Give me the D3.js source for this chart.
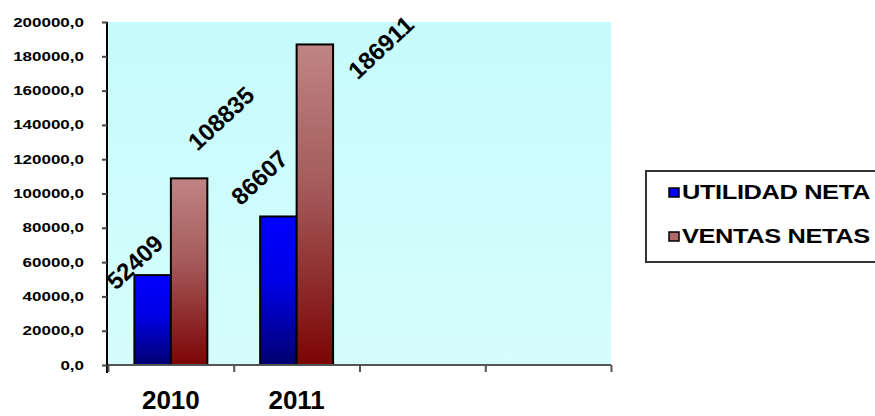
<!DOCTYPE html>
<html>
<head>
<meta charset="utf-8">
<script src="https://cdn.jsdelivr.net/npm/d3@7"></script>
<style>
  html, body { margin: 0; padding: 0; background: #fff; }
  svg { display: block; }
  text { font-family: "Liberation Sans", Arial, sans-serif; fill: #000; }
</style>
</head>
<body>
<svg id="chart" width="875" height="416"></svg>
<script>
// Category slots on the x axis (only the first two carry data)
const categories = ["2010", "2011", "", ""];
const seriesNames = ["UTILIDAD NETA", "VENTAS NETAS"];
const utilidadNeta = [52409, 86607];
const ventasNetas = [108835, 186911];
const yTicks = [0, 20000, 40000, 60000, 80000, 100000, 120000, 140000, 160000, 180000, 200000];

const svg = d3.select("#chart");
const defs = svg.append("defs");

const plot = { left: 108, right: 611, top: 22, bottom: 365 };

const y = d3.scaleLinear().domain([0, 200000]).range([plot.bottom, plot.top]);
const x = d3.scaleBand().domain(d3.range(categories.length)).range([plot.left, plot.right]).paddingInner(0).paddingOuter(0);
const xSeries = d3.scaleBand().domain([0, 1]).range([x.bandwidth() * 0.21, x.bandwidth() * 0.79]).padding(0);

// Gradients
function vGrad(id, stops) {
  const g = defs.append("linearGradient").attr("id", id)
    .attr("x1", 0).attr("y1", 0).attr("x2", 0).attr("y2", 1);
  stops.forEach(s => g.append("stop").attr("offset", s[0]).attr("stop-color", s[1]));
}
vGrad("bgGrad", [[0, "#c6fbfb"], [1, "#d6fdfd"]]);
vGrad("blueGrad", [[0, "#0000ff"], [0.45, "#0000e6"], [1, "#00006e"]]);
vGrad("redGrad", [[0, "#c08484"], [0.45, "#a45a5a"], [1, "#7c0404"]]);

// Plot area background
svg.append("rect")
  .attr("x", plot.left).attr("y", plot.top)
  .attr("width", plot.right - plot.left).attr("height", plot.bottom - plot.top)
  .attr("fill", "url(#bgGrad)");

// Bars
const seriesData = [utilidadNeta, ventasNetas];
const fills = ["url(#blueGrad)", "url(#redGrad)"];
seriesData.forEach((vals, si) => {
  svg.append("g").selectAll("rect").data(vals).join("rect")
    .attr("x", (d, i) => x(i) + xSeries(si))
    .attr("y", d => y(d))
    .attr("width", xSeries.bandwidth())
    .attr("height", d => y(0) - y(d))
    .attr("fill", fills[si])
    .attr("stroke", "#000")
    .attr("stroke-width", 2);
});

// Y axis
const yAxis = d3.axisLeft(y).tickValues(yTicks).tickSize(5).tickFormat(() => "");
const gy = svg.append("g").attr("transform", `translate(${plot.left - 1},0)`).call(yAxis);
gy.select(".domain").attr("stroke", "#000").attr("stroke-width", 2).attr("d", `M0,${plot.top}V${plot.bottom + 8}`);
gy.selectAll(".tick line").attr("stroke", "#444").attr("stroke-width", 2);

// Y tick labels, wide bold face
const fmt = d => d3.format(".1f")(d).replace(".", ",");
svg.append("g").selectAll("text").data(yTicks).join("text")
  .attr("transform", d => `translate(84,${y(d) + 4.5}) scale(1.36,1)`)
  .attr("text-anchor", "end")
  .attr("font-size", 12.5)
  .attr("font-weight", "bold")
  .attr("fill", "#111")
  .text(fmt);

// X axis
const xAxis = d3.axisBottom(d3.scaleLinear().domain([0, categories.length]).range([plot.left, plot.right]))
  .tickValues(d3.range(categories.length + 1)).tickSize(7).tickFormat(() => "");
const gx = svg.append("g").attr("transform", `translate(0,${plot.bottom})`).call(xAxis);
gx.select(".domain").attr("stroke", "#555").attr("stroke-width", 2).attr("d", `M${plot.left},0H${plot.right}`);
gx.selectAll(".tick line").attr("stroke", "#555").attr("stroke-width", 2);

// Category labels
svg.append("g").selectAll("text").data(categories).join("text")
  .attr("transform", (d, i) => `translate(${x(i) + x.bandwidth() / 2},409)`)
  .attr("text-anchor", "middle")
  .attr("font-size", 26)
  .attr("font-weight", "bold")
  .attr("fill", "#111")
  .text(d => d);

// Rotated value labels above the bars
const labelNudge = [[[-18, -13], [-19, -39]], [[32, -60], [66, 3]]];
seriesData.forEach((vals, si) => {
  svg.append("g").selectAll("text").data(vals).join("text")
    .attr("transform", (d, i) => {
      const cx = x(i) + xSeries(si) + xSeries.bandwidth() / 2 + labelNudge[si][i][0];
      const cy = y(d) + labelNudge[si][i][1];
      return `translate(${cx},${cy}) rotate(-43)`;
    })
    .attr("text-anchor", "middle")
    .attr("dy", "0.35em")
    .attr("font-size", 24)
    .attr("font-weight", "bold")
    .attr("fill", "#000")
    .text(d => d);
});

// Legend
const lg = svg.append("g");
lg.append("rect").attr("x", 646).attr("y", 171).attr("width", 240).attr("height", 91)
  .attr("fill", "#fff").attr("stroke", "#333").attr("stroke-width", 2);
const swatch = ["#0000ff", "#b06a6a"];
seriesNames.forEach((name, i) => {
  const yy = 192 + i * 44;
  lg.append("rect").attr("x", 669).attr("y", yy - 4).attr("width", 10).attr("height", 9)
    .attr("fill", swatch[i]).attr("stroke", "#000").attr("stroke-width", 1.5);
  lg.append("text")
    .attr("transform", `translate(682,${yy + 7}) scale(1.27,1)`)
    .attr("font-size", 20)
    .attr("font-weight", "bold")
    .attr("letter-spacing", -0.3)
    .attr("fill", "#111")
    .text(name);
});
</script>
</body>
</html>
